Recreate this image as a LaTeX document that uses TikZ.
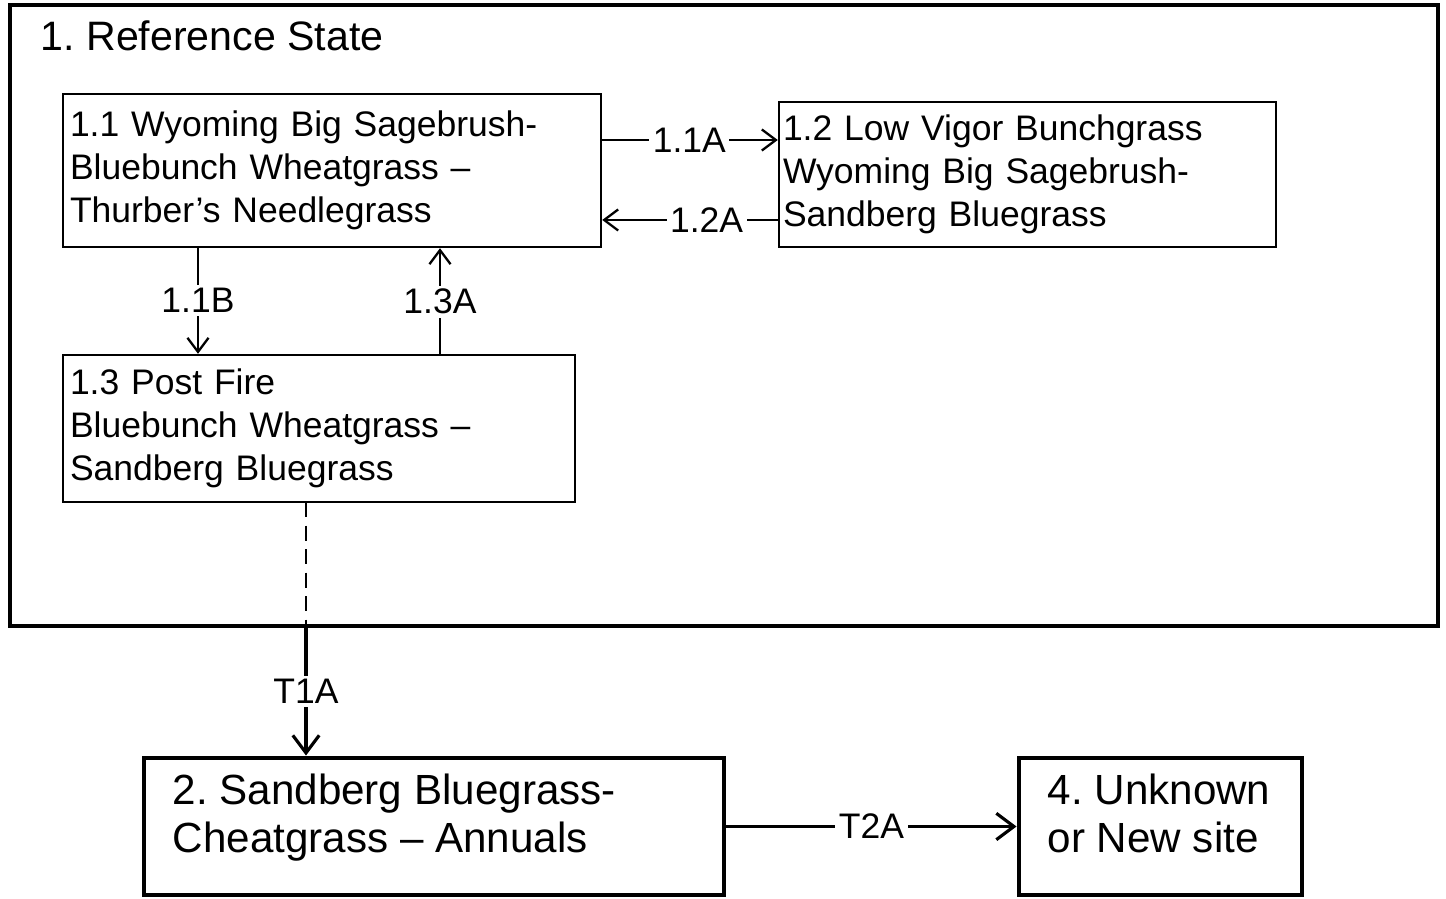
\documentclass[tikz,border=0pt]{standalone}
\usepackage{fontspec}
\setmainfont{Liberation Sans}
\usetikzlibrary{arrows.meta,positioning}
\frenchspacing

\begin{document}
\begin{tikzpicture}[
    every node/.style={inner sep=0pt, font=\fontsize{10.1}{12.2}\selectfont},
    statebox/.style={draw, line width=1.1pt},
    phasebox/.style={draw, line width=0.7pt, align=left},
    bigbox/.style={draw, line width=1.4pt},
    bigtext/.style={align=left, font=\fontsize{12}{13.7}\selectfont},
    path/.style={line width=0.65pt, -{Straight Barb[length=4pt,width=6pt]}},
    bigpath/.style={line width=0.9pt, -{Straight Barb[length=5pt,width=7.5pt]}},
    lbl/.style={fill=white, inner sep=1pt}
  ]
  \useasboundingbox (0,0) rectangle (14.46,-8.99);

  % Reference state
  \node[statebox, minimum width=14.28cm, minimum height=6.21cm] (st1) at (7.24,-3.155) {};
  \node[anchor=west, font=\fontsize{11.7}{14}\selectfont] (st1t) at (0.40,-0.36) {1. Reference State};

  % Community phases
  \node[phasebox, minimum width=5.38cm, minimum height=1.53cm, text width=5.24cm] (s11) at (3.32,-1.705)
    {1.1 Wyoming Big Sagebrush-\\Bluebunch Wheatgrass --\\Thurber’s Needlegrass};
  \node[phasebox, minimum width=4.97cm, minimum height=1.45cm, text width=4.89cm] (s12) at (10.275,-1.745)
    {1.2 Low Vigor Bunchgrass\\Wyoming Big Sagebrush-\\Sandberg Bluegrass};
  \node[phasebox, minimum width=5.12cm, minimum height=1.47cm, text width=4.98cm] (s13) at (3.19,-4.285)
    {1.3 Post Fire\\Bluebunch Wheatgrass --\\Sandberg Bluegrass};

  % Other states
  \node[bigbox, minimum width=5.80cm, minimum height=1.37cm] (s2) at (4.34,-8.265) {};
  \node[bigtext, anchor=north west] (s2t) at (1.72,-7.73) {2. Sandberg Bluegrass-\\Cheatgrass -- Annuals};
  \node[bigbox, minimum width=2.83cm, minimum height=1.37cm] (s4) at (11.605,-8.265) {};
  \node[bigtext, anchor=north west] (s4t) at (10.47,-7.73) {4. Unknown\\or New site};

  % Pathways
  \coordinate (p11a) at (6.01,-1.40);
  \coordinate (p12a) at (7.79,-2.20);
  \coordinate (p11b) at (1.98,-2.47);
  \coordinate (p13a) at (4.40,-3.55);
  \draw[path] (p11a) -- node[lbl] {1.1A} (p11a -| s12.west);
  \draw[path] (p12a) -- node[lbl, pos=0.41] {1.2A} (p12a -| s11.east);
  \draw[path] (p11b) -- node[lbl] {1.1B} (p11b |- s13.north);
  \draw[path] (p13a) -- node[lbl] {1.3A} (p13a |- s11.south);

  % Transitions
  \coordinate (t1a) at (3.06,-5.02);
  \draw[line width=0.65pt, dash pattern=on 4.3pt off 2.4pt] (t1a) -- (t1a |- st1.south);
  \draw[bigpath] (t1a |- st1.south) -- node[lbl] {T1A} (t1a |- s2.north);
  \draw[bigpath] (s2.east) -- node[lbl] {T2A} (s4.west);
\end{tikzpicture}
\end{document}
